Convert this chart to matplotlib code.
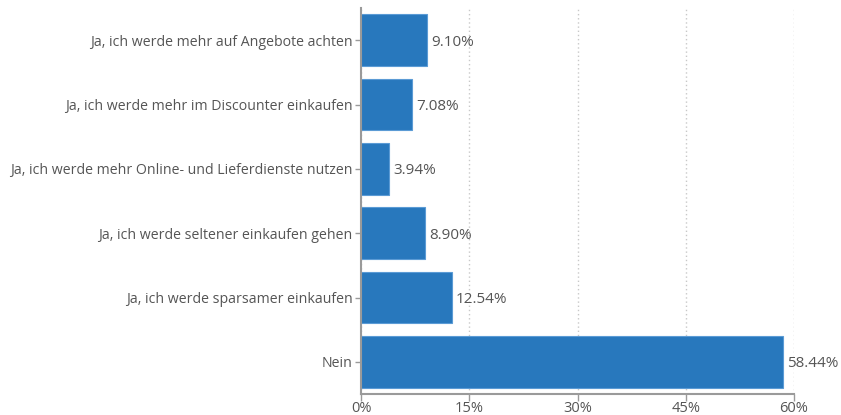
import matplotlib.pyplot as plt
from matplotlib.ticker import FuncFormatter

# survey answers, top to bottom
categories = [
    "Ja, ich werde mehr auf Angebote achten",
    "Ja, ich werde mehr im Discounter einkaufen",
    "Ja, ich werde mehr Online- und Lieferdienste nutzen",
    "Ja, ich werde seltener einkaufen gehen",
    "Ja, ich werde sparsamer einkaufen",
    "Nein",
]
shares = [9.10, 7.08, 3.94, 8.90, 12.54, 58.44]
xticks = [0, 15, 30, 45, 60]

plt.rcParams["font.family"] = ["Open Sans", "DejaVu Sans"]
TEXT = "#555555"
AXIS = "#9a9a9a"

fig = plt.figure(figsize=(8.41, 4.15), dpi=100)
ax = fig.add_axes([0.4293, 0.0506, 0.5148, 0.9301])

pos = list(range(len(categories)))
ax.barh(pos, shares, height=0.8, color="#2878bd", edgecolor="#5b9bd5",
        linewidth=0.8, zorder=3)
for y, v in zip(pos, shares):
    ax.text(v + 0.6, y, f"{v:.2f}%", va="center_baseline", ha="left",
            fontsize=11, color=TEXT)

ax.set_yticks(pos)
ax.set_yticklabels(categories)
ax.set_ylim(len(categories) - 0.5, -0.5)
ax.set_xlim(0, 60)
ax.set_xticks(xticks)
ax.xaxis.set_major_formatter(FuncFormatter(lambda v, _: f"{v:.0f}%"))

ax.grid(axis="x", linestyle=(0, (1, 2)), color="#c8c8c8", linewidth=1, zorder=0)
ax.set_axisbelow(True)
for side in ["top", "right"]:
    ax.spines[side].set_visible(False)
for side in ["left", "bottom"]:
    ax.spines[side].set_color(AXIS)
    ax.spines[side].set_linewidth(1.5)
ax.spines["left"].set_zorder(4)

ax.tick_params(axis="y", length=4, width=1, color=AXIS, labelcolor=TEXT,
               labelsize=10.2, pad=2)
ax.tick_params(axis="x", length=5, width=1, color=AXIS, labelcolor=TEXT,
               labelsize=10.5, pad=0)

fig.savefig("out.png", dpi=100)
